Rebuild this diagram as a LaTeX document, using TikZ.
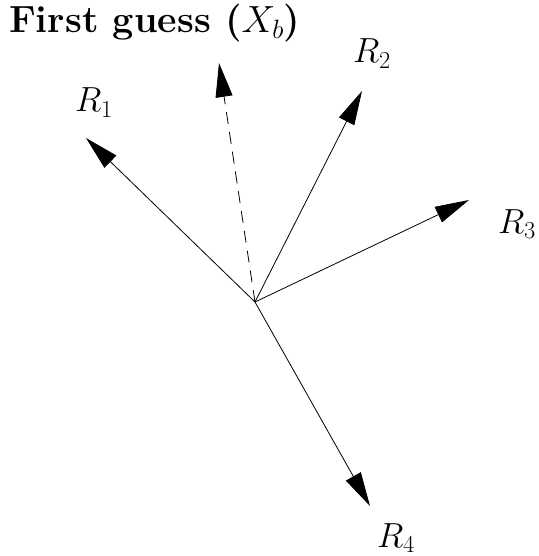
\documentclass[tikz,border=0pt]{standalone}
\usepackage{fix-cm}
\usepackage{fontspec}
\setmainfont{Latin Modern Roman}
\usetikzlibrary{arrows.meta}
\begin{document}
\begin{tikzpicture}[x=1bp,y=-1bp,
  vec/.style={line width=0.8bp,-{Triangle[length=34bp,width=17bp]}},
  lbl/.style={font=\fontsize{35}{40}\selectfont,inner sep=0pt,anchor=base west},
  ttl/.style={font=\fontsize{38}{44}\selectfont\bfseries,inner sep=0pt,anchor=base west}]
\useasboundingbox (0,0) rectangle (539,556);
\coordinate (O) at (255,302);
\coordinate (t1) at (86,138);
\coordinate (tb) at (219,63);
\coordinate (t2) at (362,91);
\coordinate (t3) at (469,200);
\coordinate (t4) at (370,506);
\draw[vec] (O) -- (t1);
\draw[vec,dash pattern=on 12bp off 8bp] (O) -- (tb);
\draw[vec] (O) -- (t2);
\draw[vec] (O) -- (t3);
\draw[vec] (O) -- (t4);
\node[ttl] (title) at (9,33) {First guess ($X_b$)};
\node[lbl] (r1) at (75,112) {$R_1$};
\node[lbl] (r2) at (353,63) {$R_2$};
\node[lbl] (r3) at (498,233) {$R_3$};
\node[lbl] (r4) at (377,547) {$R_4$};
\end{tikzpicture}
\end{document}
